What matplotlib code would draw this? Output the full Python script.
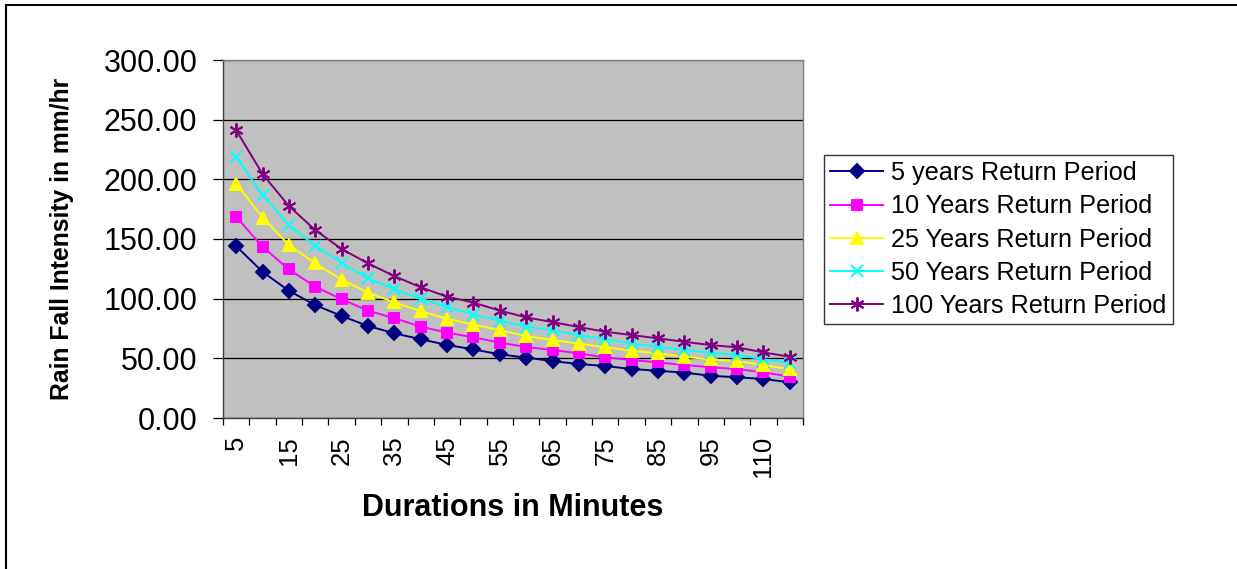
import matplotlib
matplotlib.use("Agg")
import matplotlib.pyplot as plt
from matplotlib.lines import Line2D

plt.rcParams["font.family"] = ["Liberation Sans", "DejaVu Sans"]

# durations (minutes) used as categories on the x axis
durations = [5, 10, 15, 20, 25, 30, 35, 40, 45, 50, 55, 60, 65, 70, 75,
             80, 85, 90, 95, 100, 110, 120]

# rainfall intensity (mm/hr)
rp_5 = [144.0, 122.5, 106.6, 94.6, 85.5, 77.1, 71.0, 66.0, 61.2, 57.5, 53.3,
        50.6, 47.7, 45.2, 43.6, 41.0, 39.6, 38.0, 35.4, 34.1, 32.7, 29.9]
rp_10 = [168.6, 143.5, 124.5, 110.0, 99.5, 90.0, 83.6, 76.6, 71.5, 67.6, 63.2,
         59.5, 57.0, 54.2, 50.8, 48.6, 46.6, 44.4, 42.5, 41.0, 38.3, 34.6]
rp_25 = [196.5, 168.0, 145.0, 129.5, 116.0, 105.0, 97.0, 89.4, 83.2, 78.3, 73.5,
         68.7, 65.3, 62.4, 59.2, 56.4, 54.2, 51.3, 49.1, 47.7, 44.4, 40.8]
rp_50 = [218.8, 186.8, 161.6, 144.3, 130.0, 117.1, 108.0, 100.0, 93.0, 86.6, 81.5,
         76.5, 73.5, 69.5, 65.9, 62.6, 59.7, 57.0, 54.7, 52.8, 49.2, 46.3]
rp_100 = [241.2, 204.4, 177.6, 157.5, 141.6, 129.6, 118.9, 109.5, 101.7, 96.7, 90.0,
          84.3, 80.4, 76.2, 72.3, 69.5, 66.7, 63.9, 61.1, 59.2, 55.0, 51.3]

series_labels = ["5 years Return Period", "10 Years Return Period",
                 "25 Years Return Period", "50 Years Return Period",
                 "100 Years Return Period"]

W, H = 1237, 569
fig = plt.figure(figsize=(W / 100, H / 100), dpi=100)

# axes placed to match the plot area in pixels
left, right, top, bottom = 223, 803, 60, 418
ax = fig.add_axes([left / W, 1 - bottom / H, (right - left) / W, (bottom - top) / H])
ax.set_facecolor("#C0C0C0")

x = list(range(len(durations)))
styles = [
    (rp_5, "#000080", "D", 7),
    (rp_10, "#FF00FF", "s", 7.5),
    (rp_25, "#FFFF00", "^", 8.5),
    (rp_50, "#00FFFF", "x", 8),
    (rp_100, "#800080", (6, 2, 0), 10),
]
for (vals, color, marker, ms), label in zip(styles, series_labels):
    ax.plot(x, vals, color=color, lw=1.4, marker=marker, ms=ms,
            mec=color, mfc=color, mew=1.4, label=label, zorder=3)

ax.set_ylim(0, 300)
ax.set_xlim(-0.5, len(durations) - 0.5)

ax.set_yticks(range(0, 301, 50))
ax.set_yticklabels([f"{v:.2f}" for v in range(0, 301, 50)], fontsize=22)
ax.tick_params(axis="y", direction="out", length=7.5, width=0.9, pad=11)
ax.grid(axis="y", color="black", lw=0.9, zorder=1)

# tick marks between categories, labels on every other category
ax.set_xticks([i - 0.5 for i in range(len(durations) + 1)])
ax.set_xticklabels([])
ax.tick_params(axis="x", which="major", direction="out", length=5, width=0.9)
ax.set_xticks(x[::2], minor=True)
ax.set_xticklabels([str(d) for d in durations[::2]], minor=True,
                   rotation=90, fontsize=18.5, va="top")
ax.tick_params(axis="x", which="minor", length=0, pad=13)

for s in ax.spines.values():
    s.set_color("#808080")
    s.set_linewidth(1.0)
ax.spines["left"].set_color("#404040")
ax.spines["bottom"].set_color("#404040")

fig.text(62 / W, 1 - 239 / H, "Rain Fall Intensity in mm/hr", rotation=90,
         ha="center", va="center", fontsize=17.8, fontweight="bold")
fig.text(513 / W, 1 - 508 / H, "Durations in Minutes", ha="center",
         va="center", fontsize=22, fontweight="bold")

leg = fig.legend(loc="upper left", bbox_to_anchor=(824 / W, 1 - 155 / H),
                 fontsize=18.2, frameon=True, fancybox=False, handlelength=2.1,
                 handletextpad=0.3, borderpad=0.25, labelspacing=0.36,
                 borderaxespad=0)
leg.get_frame().set_edgecolor("black")
leg.get_frame().set_linewidth(1.0)

# outer chart border (only top and left edges are visible in the frame)
fig.add_artist(Line2D([6 / W, 1], [1 - 5 / H, 1 - 5 / H], color="black", lw=1.5))
fig.add_artist(Line2D([6 / W, 6 / W], [0, 1 - 5 / H], color="black", lw=1.5))

fig.savefig("out.png", dpi=100)
